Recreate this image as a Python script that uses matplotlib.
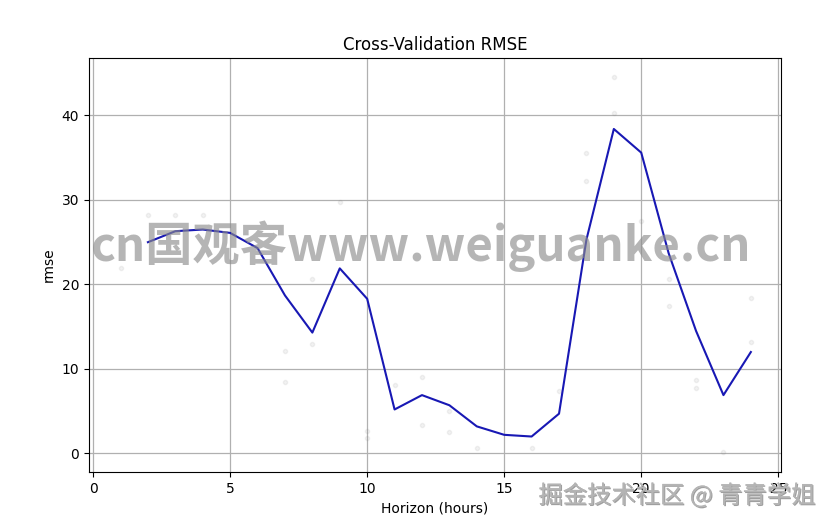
import matplotlib
matplotlib.use("Agg")
import matplotlib.pyplot as plt
import matplotlib.patheffects as pe
import numpy as np

# Mean RMSE per horizon (line)
line_hours = [2, 3, 4, 5, 6, 7, 8, 9, 10, 11, 12, 13, 14, 15, 16, 17, 18, 19, 20, 21, 22, 23, 24]
line_rmse = [25.0, 26.3, 26.5, 26.1, 24.3, 18.7, 14.3, 21.9, 18.3, 5.2, 6.9, 5.7, 3.2, 2.2, 2.0,
             4.7, 25.3, 38.4, 35.6, 23.7, 14.5, 6.9, 12.0]

# Individual cross-validation RMSE points (faint scatter)
pt_hours = [1, 2, 3, 4, 7, 7, 8, 8, 9, 10, 10, 11, 12, 12, 13, 13, 14, 16, 17,
            18, 18, 19, 19, 20, 21, 21, 22, 22, 23, 24, 24]
pt_rmse = [22.0, 28.2, 28.2, 28.2, 12.1, 8.4, 12.9, 20.7, 29.7, 2.6, 1.8, 8.1, 9.1, 3.4, 5.0, 2.5, 0.6, 0.6, 7.4,
           35.6, 32.2, 44.6, 40.3, 27.5, 20.6, 17.5, 8.7, 7.7, 0.2, 18.4, 13.2]

fig = plt.figure(figsize=(8.33, 5.28), dpi=100)
ax = fig.add_axes([89/833, 1 - 472/528, (781-89)/833, (472-58)/528])

ax.plot(pt_hours, pt_rmse, '.', alpha=0.1, c='gray')
ax.plot(line_hours, line_rmse, ls='-', c='#1818b4', lw=1.5)
ax.grid(True, which='major', c='#b0b0b0', ls='-', lw=0.9)
ax.set_axisbelow(True)
ax.set_xlim(-0.15, 25.1)
ax.set_ylim(-2.2, 46.8)
ax.set_xticks([0, 5, 10, 15, 20, 25])
ax.set_yticks([0, 10, 20, 30, 40])
ax.set_xlabel('Horizon (hours)')
ax.set_ylabel('rmse')
ax.set_title('Cross-Validation RMSE')

# watermark texts
fig.text(421/833, 1 - 246/528, 'cn国观客www.weiguanke.cn', ha='center', va='center',
         fontsize=34, fontweight='bold', color='#8c8c8c', alpha=0.64,
         family=['Noto Sans CJK SC', 'DejaVu Sans'])
fig.text(815/833, 1 - 496/528, '掘金技术社区 @ 青青学姐', ha='right', va='center',
         fontsize=17.5, fontweight='light', color='#b4b4b4',
         family=['Noto Sans CJK SC', 'DejaVu Sans'],
         path_effects=[pe.withSimplePatchShadow(offset=(0.8, -0.8), shadow_rgbFace='#606060', alpha=0.6),
                       pe.Normal()])

fig.savefig('out.png', dpi=100)
